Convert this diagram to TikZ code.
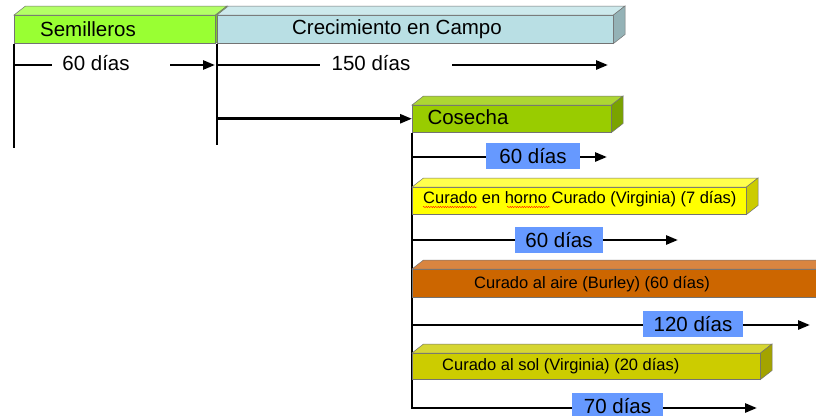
\documentclass[tikz,border=0pt]{standalone}
\usepackage{fontspec}
\setmainfont{Liberation Sans}
\usetikzlibrary{arrows.meta,decorations.pathmorphing}
\definecolor{semiF}{HTML}{99FF33}\definecolor{semiT}{HTML}{B3FF66}\definecolor{semiS}{HTML}{7ACC29}
\definecolor{crecF}{HTML}{B9DFE4}\definecolor{crecT}{HTML}{CDE9EC}\definecolor{crecS}{HTML}{94B2B6}
\definecolor{cosF}{HTML}{99CC00}\definecolor{cosT}{HTML}{ADD633}\definecolor{cosS}{HTML}{7AA300}
\definecolor{horF}{HTML}{FFFF00}\definecolor{horT}{HTML}{FFFF4D}\definecolor{horS}{HTML}{CCCC00}
\definecolor{aireF}{HTML}{CC6600}\definecolor{aireT}{HTML}{D98540}\definecolor{aireS}{HTML}{A35200}
\definecolor{solF}{HTML}{CCCC00}\definecolor{solT}{HTML}{D6D633}\definecolor{solS}{HTML}{A3A300}
\definecolor{dayblue}{HTML}{6699FF}
\newcommand\tdbox[8]{%
  \node[frontface, fill=#6, minimum width=#4pt, minimum height=#5pt, anchor=north west] (#1) at (#2,#3) {};
  \filldraw[facedge, fill=#7] (#1.north west) -- ([shift={(11.5pt,9pt)}]#1.north west)
     -- ([shift={(11.5pt,9pt)}]#1.north east) -- (#1.north east) -- cycle;
  \filldraw[facedge, fill=#8] (#1.north east) -- ([shift={(11.5pt,9pt)}]#1.north east)
     -- ([shift={(11.5pt,9pt)}]#1.south east) -- (#1.south east) -- cycle;
}
\begin{document}
\begin{tikzpicture}[x=1pt,y=-1pt,
  frontface/.style={draw=black!55, line width=0.5pt, inner sep=0pt},
  facedge/.style={draw=black!55, line width=0.5pt},
  big/.style={font=\fontsize{20.5}{24}\selectfont},
  small/.style={font=\fontsize{16.5}{20}\selectfont},
  ln/.style={line width=2.6pt},
  arr/.style={line width=2.6pt, -{Triangle[length=12pt,width=9pt]}},
  daybox/.style={fill=dayblue, inner sep=0pt, minimum height=26pt, big}]
\useasboundingbox (0,0) rectangle (816,415);
\fill[white] (0,0) rectangle (816,415);
\begin{scope}
\clip (0,0) rectangle (816,415);
% vertical timeline lines
\coordinate (v1b) at (14,148);
\coordinate (v2b) at (217,145);
\coordinate (v3b) at (412,409);
\tdbox{semi}{14}{15}{201}{28}{semiF}{semiT}{semiS}
\tdbox{crec}{217}{15}{396}{28}{crecF}{crecT}{crecS}
\node[big] (tsemi) at (88,29) {Semilleros};
\node[big] (tcrec) at (397,29) {Crecimiento en Campo};
\draw[ln] (semi.south west) -- (v1b);
\draw[ln] (crec.south west) -- (v2b);
% 60 dias / 150 dias
\coordinate (r1a) at (14,65);
\coordinate (r1b) at (52,65);
\node[big] (t60a) at (96,63) {60 días};
\coordinate (r1c) at (170,65);
\coordinate (r1d) at (215,65);
\draw[ln] (r1a) -- (r1b);
\draw[arr] (r1c) -- (r1d);
\coordinate (r2a) at (217,65);
\coordinate (r2b) at (320,65);
\node[big] (t150) at (371,63) {150 días};
\coordinate (r2c) at (452,65);
\coordinate (r2d) at (608,65);
\draw[ln] (r2a) -- (r2b);
\draw[arr] (r2c) -- (r2d);
% Cosecha
\tdbox{cos}{412}{105}{199}{27}{cosF}{cosT}{cosS}
\node[big, anchor=west] (tcos) at (424,117) {Cosecha};
\draw[arr] (crec.south west |- cos.west) -- (cos.west);
\draw[ln] (cos.south west) -- (v3b);
% row 60 dias
\coordinate (d1a) at (412,157);
\coordinate (d1b) at (607,157);
\draw[arr] (d1a) -- (d1b);
\node[daybox, minimum width=94pt] (b1) at (533,156) {60 días};
% Curado en horno
\tdbox{hor}{412}{187}{334}{27}{horF}{horT}{horS}
\node[small, anchor=west, inner sep=0pt] (thor) at (423,199) {Curado en horno Curado (Virginia) (7 días)};
\draw[red, line width=0.4pt, decorate, decoration={snake, amplitude=0.6pt, segment length=2.4pt}] (423,207) -- (477,207);
\draw[red, line width=0.4pt, decorate, decoration={snake, amplitude=0.6pt, segment length=2.4pt}] (507,207) -- (550,207);
% row 60 dias 2
\coordinate (d2a) at (412,240);
\coordinate (d2b) at (678,240);
\draw[arr] (d2a) -- (d2b);
\node[daybox, minimum width=88pt] (b2) at (559,240) {60 días};
% Curado al aire
\tdbox{aire}{412}{269}{420}{28}{aireF}{aireT}{aireS}
\node[small, anchor=west, inner sep=0pt] (taire) at (474,284) {Curado al aire (Burley) (60 días)};
% row 120 dias
\coordinate (d3a) at (412,325);
\coordinate (d3b) at (810,325);
\draw[arr] (d3a) -- (d3b);
\node[daybox, minimum width=100pt] (b3) at (693,324) {120 días};
% Curado al sol
\tdbox{sol}{412}{353}{348}{26}{solF}{solT}{solS}
\node[small, anchor=west, inner sep=0pt] (tsol) at (442,366) {Curado al sol (Virginia) (20 días)};
% row 70 dias
\coordinate (d4a) at (412,408);
\coordinate (d4b) at (757,408);
\draw[arr] (d4a) -- (d4b);
\node[daybox, minimum width=91pt] (b4) at (617.5,406) {70 días};
\end{scope}
\end{tikzpicture}
\end{document}
